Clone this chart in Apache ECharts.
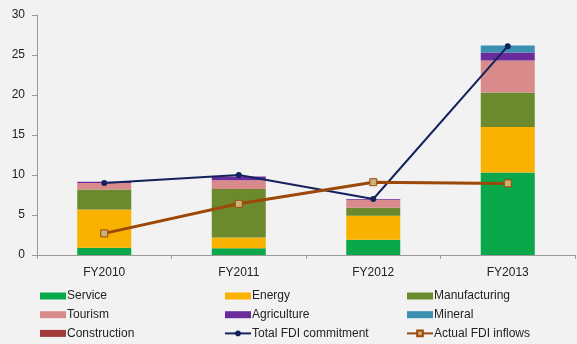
<!DOCTYPE html>
<html>
<head>
<meta charset="utf-8">
<script src="https://cdn.jsdelivr.net/npm/echarts@6/dist/echarts.min.js"></script>
<style>
  html, body { margin: 0; padding: 0; background: #f2f2f2; }
  #chart { width: 577px; height: 344px; }
</style>
</head>
<body>
<div id="chart"></div>
<script>
// FDI by sector (USD bn), stacked, with commitment and inflow lines
const years = ['FY2010', 'FY2011', 'FY2012', 'FY2013'];
const service       = [0.9, 0.85, 1.9, 10.3];
const energy        = [4.8, 1.35, 3.0, 5.7];
const manufacturing = [2.5, 6.05, 1.0, 4.3];
const tourism       = [0.8, 1.1, 1.0, 4.0];
const agriculture   = [0.15, 0.45, 0.1, 1.0];
const mineral       = [0, 0, 0, 0.9];
const construction  = [0, 0, 0, 0];
const totalCommitment = [9.0, 10.0, 7.0, 26.1];
const actualInflows   = [2.7, 6.4, 9.1, 8.95];
const yTicks = [0, 5, 10, 15, 20, 25, 30];

const font = 'Liberation Sans, Arial, sans-serif';

function barSeries(name, data, color) {
  return {
    name, type: 'bar', stack: 'fdi', data, barWidth: 54,
    itemStyle: { color }, emphasis: { disabled: true }
  };
}

const legendBase = {
  orient: 'vertical', top: 289, padding: 0, height: 56,
  itemWidth: 26, itemHeight: 7, itemGap: 4.7,
  textStyle: { fontFamily: font, fontSize: 12, color: '#222', lineHeight: 14, padding: [0, 0, 0, -4] },
  selectedMode: false
};

function legendItems(names) {
  return names.map(n => ({
    name: n,
    icon: (n === 'Total FDI commitment' || n === 'Actual FDI inflows') ? undefined : 'rect'
  }));
}

const chart = echarts.init(document.getElementById('chart'), null, { renderer: 'canvas' });
chart.setOption({
  backgroundColor: '#f2f2f2',
  animation: false,
  grid: { left: 37, right: 2, top: 15, bottom: 89 },
  legend: [
    Object.assign({}, legendBase, { left: 40, data: legendItems(['Service', 'Tourism', 'Construction']) }),
    Object.assign({}, legendBase, { left: 224, data: legendItems(['Energy', 'Agriculture', 'Total FDI commitment']) }),
    Object.assign({}, legendBase, { left: 406, data: legendItems(['Manufacturing', 'Mineral', 'Actual FDI inflows']) })
  ],
  xAxis: {
    type: 'category', data: years, boundaryGap: true,
    axisLine: { lineStyle: { color: '#9a9a9a', width: 1 } },
    axisTick: { show: true, length: 4, alignWithLabel: false, lineStyle: { color: '#9a9a9a' } },
    axisLabel: { fontFamily: font, fontSize: 12, color: '#222', margin: 12 }
  },
  yAxis: {
    type: 'value', min: yTicks[0], max: yTicks[yTicks.length - 1], interval: 5,
    axisLine: { show: true, lineStyle: { color: '#9a9a9a', width: 1 } },
    axisTick: { show: true, length: 5, inside: false, lineStyle: { color: '#9a9a9a' } },
    splitLine: { show: false },
    axisLabel: { fontFamily: font, fontSize: 12, color: '#222', margin: 12 }
  },
  series: [
    barSeries('Service', service, '#0aa84a'),
    barSeries('Energy', energy, '#f9b200'),
    barSeries('Manufacturing', manufacturing, '#6b8a2e'),
    barSeries('Tourism', tourism, '#d98b8b'),
    barSeries('Agriculture', agriculture, '#6a2c9c'),
    barSeries('Mineral', mineral, '#3a8fb2'),
    barSeries('Construction', construction, '#a33b3b'),
    {
      name: 'Total FDI commitment', type: 'line', data: totalCommitment, z: 5,
      symbol: 'circle', symbolSize: 6,
      lineStyle: { color: '#14225c', width: 2 },
      itemStyle: { color: '#14225c' }
    },
    {
      name: 'Actual FDI inflows', type: 'line', data: actualInflows, z: 6,
      symbol: 'rect', symbolSize: 7,
      lineStyle: { color: '#9c4808', width: 3 },
      itemStyle: { color: '#c9b27a', borderColor: '#9c4808', borderWidth: 1 }
    }
  ]
});
</script>
</body>
</html>
